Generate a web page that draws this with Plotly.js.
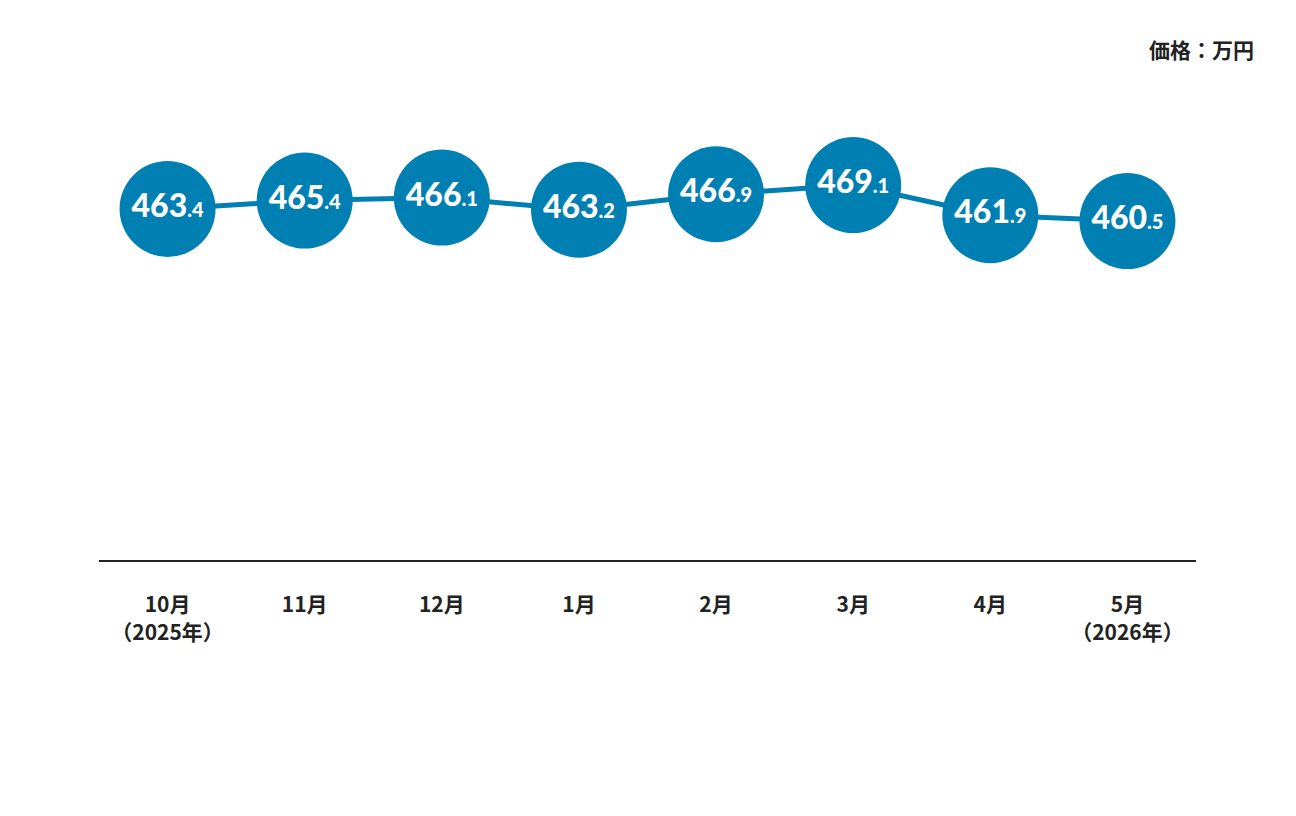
<!DOCTYPE html>
<html>
<head>
<meta charset="utf-8">
<script src="https://cdn.plot.ly/plotly-3.0.1.min.js"></script>
<style>
  html, body { margin: 0; padding: 0; background: #fff; }
  #chart { width: 1296px; height: 816px; }
</style>
</head>
<body>
<div id="chart"></div>
<script>
  // 月ごとの価格（万円）
  const months = ['10月<br>（2025年）', '11月', '12月', '1月', '2月', '3月', '4月', '5月<br>（2026年）'];
  const prices = [463.4, 465.4, 466.1, 463.2, 466.9, 469.1, 461.9, 460.5];
  const unitLabel = '価格：万円';

  const BLUE = '#0080b2';

  // 整数部を大きく、小数部を小さく
  const labels = prices.map(v => {
    const [i, d] = v.toFixed(1).split('.');
    return i + '<span style="font-size:20px">.' + d + '</span>';
  });

  const trace = {
    type: 'scatter',
    mode: 'lines+markers+text',
    x: months,
    y: prices,
    line: { color: BLUE, width: 5 },
    marker: { size: 96, color: BLUE, line: { width: 0 } },
    text: labels,
    textposition: 'middle center',
    textfont: { family: 'Lato, "DejaVu Sans", sans-serif', size: 32, color: '#ffffff', weight: 900 },
    hoverinfo: 'skip',
    cliponaxis: false,
  };

  const layout = {
    width: 1296,
    height: 816,
    paper_bgcolor: '#ffffff',
    plot_bgcolor: '#ffffff',
    margin: { l: 99, r: 100, t: 100, b: 256 },
    showlegend: false,
    xaxis: {
      type: 'category',
      range: [-0.5, 7.5],
      showgrid: false,
      zeroline: false,
      showline: true,
      linecolor: '#222222',
      linewidth: 2,
      ticks: '',
      ticklabelstandoff: 25,
      tickfont: { family: '"Noto Sans CJK JP", sans-serif', size: 21, color: '#222222', weight: 'bold' },
    },
    yaxis: {
      range: [379.6, 489.4],
      visible: false,
      showgrid: false,
      zeroline: false,
    },
    annotations: [{
      xref: 'paper', yref: 'paper',
      x: 1.055, y: 1.11,
      xanchor: 'right', yanchor: 'middle',
      showarrow: false,
      text: '<b>' + unitLabel + '</b>',
      font: { family: '"Noto Sans CJK JP", sans-serif', size: 21, color: '#222222' },
    }],
  };

  Plotly.newPlot('chart', [trace], layout, { displayModeBar: false, staticPlot: true });
</script>
</body>
</html>
